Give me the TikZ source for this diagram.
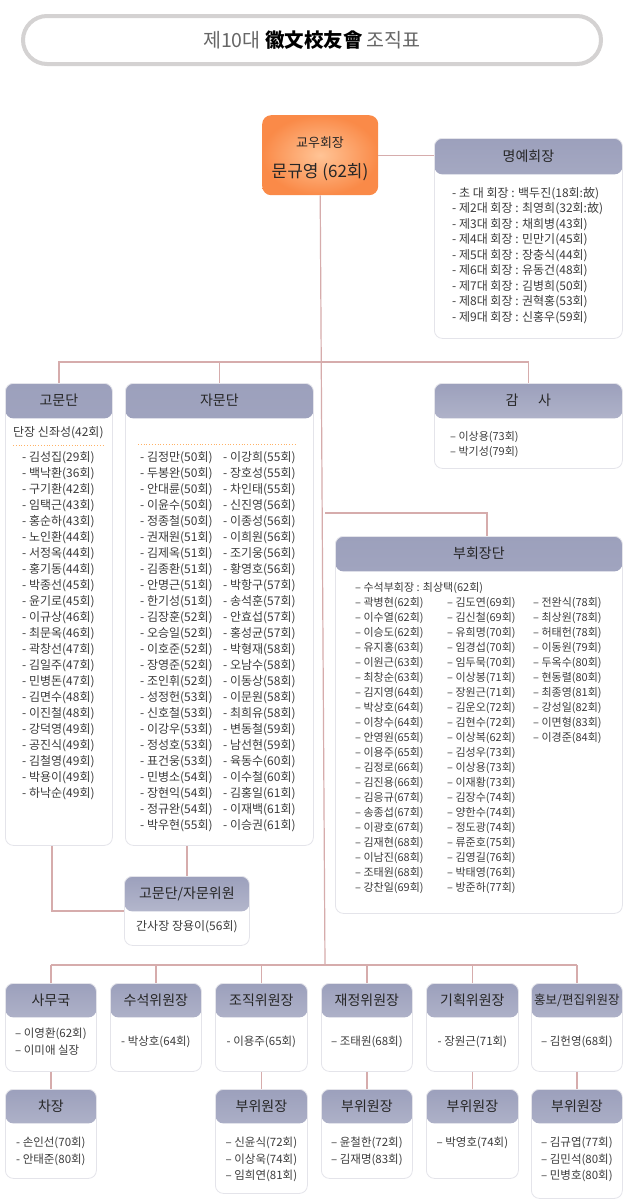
\documentclass[tikz,border=0pt]{standalone}
\usepackage{fontspec}
\setmainfont{Noto Sans CJK KR}
\usepackage{xcolor}
\definecolor{linkc}{RGB}{214,172,172}
\definecolor{hdrtop}{RGB}{156,160,188}
\definecolor{hdrbot}{RGB}{202,204,219}
\definecolor{framec}{RGB}{212,210,210}
\definecolor{edgec}{RGB}{228,228,234}
\definecolor{txtc}{RGB}{60,60,60}
\definecolor{chairout}{RGB}{250,138,72}
\definecolor{chairin}{RGB}{255,196,150}

\begin{document}
\begin{tikzpicture}[x=1pt, y=-1pt,
	link/.style={draw=linkc, line width=1.2pt},
	orgbox/.style={draw=edgec, line width=0.8pt, fill=white, rounded corners=8pt, inner sep=0pt, anchor=north west,
		path picture={\shade[top color=hdrtop, bottom color=hdrbot] (path picture bounding box.north west) rectangle ([yshift=-#1]path picture bounding box.north east);}},
	orgbox/.default=35pt,
	hdr/.style={font=\fontsize{14}{16}\selectfont, text=black!85},
	list/.style={font=\fontsize{12}{16}\selectfont, text=txtc, align=left, inner sep=0pt, anchor=north west},
	slist/.style={font=\fontsize{11}{15}\selectfont, text=txtc, align=left, inner sep=0pt, anchor=north west},
	blist/.style={font=\fontsize{11.5}{16.5}\selectfont, text=txtc, align=left, inner sep=0pt, anchor=north}]
	\fill[white] (0,0) rectangle (628,1200);
	\useasboundingbox (0,0) rectangle (628,1200);
	% title
	\node[draw=framec, line width=4pt, rounded corners=24pt, minimum width=578pt, minimum height=48pt, inner sep=0pt, font=\fontsize{19.5}{22}\selectfont] (title) at (312,40) {{\color{black!60}제10대} \textbf{徽文校友會} {\color{black!60}조직표}};
	% chairman
	\node[rounded corners=9pt, inner color=chairin, outer color=chairout, minimum width=116pt, minimum height=80pt, anchor=north west] (chair) at (262,115) {};
	\node[font=\fontsize{13}{15}\selectfont, text=black!85] (chair-t1) at (320,143) {교우회장};
	\node[font=\fontsize{17}{19}\selectfont, text=black!85] (chair-t2) at (320,172) {문규영 (62회)};
	% honorary chairmen
	\node[orgbox=36pt, minimum width=188pt, minimum height=200pt] (myeong) at (434,138) {};
	\node[hdr] (myeong-t) at ([yshift=-18pt]myeong.north) {명예회장};
	\node[list, font=\fontsize{12}{15.5}\selectfont] (myeong-l) at (452,187) {- 초 대 회장 : 백두진(18회:故)\\- 제2대 회장 : 최영희(32회:故)\\- 제3대 회장 : 채희병(43회)\\- 제4대 회장 : 민만기(45회)\\- 제5대 회장 : 장충식(44회)\\- 제6대 회장 : 유동건(48회)\\- 제7대 회장 : 김병희(50회)\\- 제8대 회장 : 권혁홍(53회)\\- 제9대 회장 : 신홍우(59회)};
	% advisers
	\node[orgbox, minimum width=107pt, minimum height=462pt] (gomun) at (5,383) {};
	\node[hdr] (gomun-t) at ([yshift=-17.5pt]gomun.north) {고문단};
	\node[list] (gomun-h) at (13,426) {단장 신좌성(42회)};
	\draw[orange!60, dotted, line width=0.8pt] (13,445) -- (105,445);
	\node[list] (gomun-l) at (22,451) {- 김성집(29회)\\- 백낙환(36회)\\- 구기환(42회)\\- 임택근(43회)\\- 홍순하(43회)\\- 노인환(44회)\\- 서정옥(44회)\\- 홍기동(44회)\\- 박종선(45회)\\- 윤기로(45회)\\- 이규상(46회)\\- 최문옥(46회)\\- 곽창선(47회)\\- 김일주(47회)\\- 민병돈(47회)\\- 김면수(48회)\\- 이진철(48회)\\- 강덕영(49회)\\- 공진식(49회)\\- 김철영(49회)\\- 박용이(49회)\\- 하낙순(49회)};
	\node[orgbox, minimum width=188pt, minimum height=462pt] (jamun) at (125,383) {};
	\node[hdr] (jamun-t) at ([yshift=-17.5pt]jamun.north) {자문단};
	\draw[orange!60, dotted, line width=0.8pt] (138,444) -- (296,444);
	\node[list] (jamun-l1) at (140,451) {- 김정만(50회)\\- 두봉완(50회)\\- 안대륜(50회)\\- 이윤수(50회)\\- 정종철(50회)\\- 권재원(51회)\\- 김제옥(51회)\\- 김종환(51회)\\- 안명근(51회)\\- 한기성(51회)\\- 김장훈(52회)\\- 오승일(52회)\\- 이호준(52회)\\- 장영준(52회)\\- 조인휘(52회)\\- 성정헌(53회)\\- 신호철(53회)\\- 이강우(53회)\\- 정성호(53회)\\- 표건웅(53회)\\- 민병소(54회)\\- 장현익(54회)\\- 정규완(54회)\\- 박우현(55회)};
	\node[list] (jamun-l2) at (223,451) {- 이강희(55회)\\- 장호성(55회)\\- 차인태(55회)\\- 신진영(56회)\\- 이종성(56회)\\- 이희원(56회)\\- 조기웅(56회)\\- 황영호(56회)\\- 박항구(57회)\\- 송석훈(57회)\\- 안효섭(57회)\\- 홍성균(57회)\\- 박형재(58회)\\- 오남수(58회)\\- 이동상(58회)\\- 이문원(58회)\\- 최희유(58회)\\- 변동철(59회)\\- 남선현(59회)\\- 육동수(60회)\\- 이수철(60회)\\- 김홍일(61회)\\- 이재백(61회)\\- 이승권(61회)};
	% auditors
	\node[orgbox, minimum width=188pt, minimum height=85pt] (gamsa) at (434,383) {};
	\node[hdr] (gamsa-t) at ([yshift=-17.5pt]gamsa.north) {감\hspace{1.4em}사};
	\node[slist] (gamsa-l) at (450,431) {– 이상용(73회)\\– 박기성(79회)};
	% vice presidents
	\node[orgbox, minimum width=287pt, minimum height=377pt] (buhoe) at (335,536) {};
	\node[hdr] (buhoe-t) at ([yshift=-17.5pt]buhoe.north) {부회장단};
	\node[slist] (buhoe-h) at (355,582) {– 수석부회장 : 최상택(62회)};
	\node[slist] (buhoe-l1) at (355,597) {– 곽병현(62회)\\– 이수열(62회)\\– 이승도(62회)\\– 유지홍(63회)\\– 이원근(63회)\\– 최창순(63회)\\– 김지영(64회)\\– 박상호(64회)\\– 이창수(64회)\\– 안영원(65회)\\– 이용주(65회)\\– 김정로(66회)\\– 김진용(66회)\\– 김응규(67회)\\– 송종섭(67회)\\– 이광호(67회)\\– 김재현(68회)\\– 이남진(68회)\\– 조태원(68회)\\– 강찬일(69회)};
	\node[slist] (buhoe-l2) at (447,597) {– 김도연(69회)\\– 김신철(69회)\\– 유희명(70회)\\– 임경섭(70회)\\– 임두묵(70회)\\– 이상봉(71회)\\– 장원근(71회)\\– 김운오(72회)\\– 김현수(72회)\\– 이상복(62회)\\– 김성우(73회)\\– 이상용(73회)\\– 이재황(73회)\\– 김장수(74회)\\– 양한수(74회)\\– 정도광(74회)\\– 류준호(75회)\\– 김영길(76회)\\– 박태영(76회)\\– 방준하(77회)};
	\node[slist] (buhoe-l3) at (533,597) {– 전완식(78회)\\– 최상원(78회)\\– 허태헌(78회)\\– 이동원(79회)\\– 두옥수(80회)\\– 현동렬(80회)\\– 최종영(81회)\\– 강성일(82회)\\– 이면형(83회)\\– 이경준(84회)};
	% adviser committee
	\node[orgbox, minimum width=125pt, minimum height=69pt] (gjw) at (124,876) {};
	\node[hdr] (gjw-t) at ([yshift=-17.5pt]gjw.north) {고문단/자문위원};
	\node[list] (gjw-l) at (136,920) {간사장 장용이(56회)};
	% committees, first row
	\node[orgbox=34pt, minimum width=91pt, minimum height=88pt] (samu) at (5,983) {};
	\node[hdr] (samu-t) at ([yshift=-17pt]samu.north) {사무국};
	\node[blist] (samu-l) at (samu.north |- 0,1028) {– 이영환(62회)\\– 이미애 실장};
	\node[orgbox=34pt, minimum width=91pt, minimum height=88pt] (suseok) at (110,983) {};
	\node[hdr] (suseok-t) at ([yshift=-17pt]suseok.north) {수석위원장};
	\node[blist] (suseok-l) at (suseok.north |- 0,1036) {- 박상호(64회)};
	\node[orgbox=34pt, minimum width=92pt, minimum height=88pt] (jojik) at (215,983) {};
	\node[hdr] (jojik-t) at ([yshift=-17pt]jojik.north) {조직위원장};
	\node[blist] (jojik-l) at (jojik.north |- 0,1036) {- 이용주(65회)};
	\node[orgbox=34pt, minimum width=91pt, minimum height=88pt] (jaejeong) at (321,983) {};
	\node[hdr] (jaejeong-t) at ([yshift=-17pt]jaejeong.north) {재정위원장};
	\node[blist] (jaejeong-l) at (jaejeong.north |- 0,1036) {– 조태원(68회)};
	\node[orgbox=34pt, minimum width=92pt, minimum height=88pt] (gihoek) at (426,983) {};
	\node[hdr] (gihoek-t) at ([yshift=-17pt]gihoek.north) {기획위원장};
	\node[blist] (gihoek-l) at (gihoek.north |- 0,1036) {- 장원근(71회)};
	\node[orgbox=34pt, minimum width=91pt, minimum height=88pt] (hongbo) at (531,983) {};
	\node[hdr, font=\fontsize{12.5}{14}\selectfont] (hongbo-t) at ([yshift=-17pt]hongbo.north) {홍보/편집위원장};
	\node[blist] (hongbo-l) at (hongbo.north |- 0,1036) {– 김헌영(68회)};
	% committees, second row
	\node[orgbox=34pt, minimum width=91pt, minimum height=89pt] (chajang) at (5,1089) {};
	\node[hdr] (chajang-t) at ([yshift=-17pt]chajang.north) {차장};
	\node[blist] (chajang-l) at (chajang.north |- 0,1137) {- 손인선(70회)\\- 안태준(80회)};
	\node[orgbox=34pt, minimum width=92pt, minimum height=104pt] (jojik-b) at (215,1089) {};
	\node[hdr] (jojik-bt) at ([yshift=-17pt]jojik-b.north) {부위원장};
	\node[blist] (jojik-bl) at (jojik-b.north |- 0,1137) {– 신윤식(72회)\\– 이상욱(74회)\\– 임희연(81회)};
	\node[orgbox=34pt, minimum width=91pt, minimum height=89pt] (jaejeong-b) at (321,1089) {};
	\node[hdr] (jaejeong-bt) at ([yshift=-17pt]jaejeong-b.north) {부위원장};
	\node[blist] (jaejeong-bl) at (jaejeong-b.north |- 0,1137) {– 윤철한(72회)\\– 김재명(83회)};
	\node[orgbox=34pt, minimum width=92pt, minimum height=89pt] (gihoek-b) at (426,1089) {};
	\node[hdr] (gihoek-bt) at ([yshift=-17pt]gihoek-b.north) {부위원장};
	\node[blist] (gihoek-bl) at (gihoek-b.north |- 0,1137) {– 박영호(74회)};
	\node[orgbox=34pt, minimum width=91pt, minimum height=109pt] (hongbo-b) at (531,1089) {};
	\node[hdr] (hongbo-bt) at ([yshift=-17pt]hongbo-b.north) {부위원장};
	\node[blist] (hongbo-bl) at (hongbo-b.north |- 0,1137) {– 김규엽(77회)\\– 김민석(80회)\\– 민병호(80회)};
	% connectors
	\coordinate (hub1) at (325,362);
	\coordinate (hub2) at (325,513);
	\coordinate (hub3) at (325,965);
	\draw[link] (chair.east) -- (chair.east -| myeong.west);
	\draw[link] (chair.south) -- (hub3);
	\draw[link] (gomun.north) -- (gomun.north |- hub1) -- (gamsa.north |- hub1) -- (gamsa.north);
	\draw[link] (jamun.north) -- (jamun.north |- hub1);
	\draw[link] (hub2) -| ([xshift=8pt]buhoe.north);
	\draw[link] (gjw.north) -- (gjw.north |- jamun.south);
	\draw[link] ([xshift=-7pt]gomun.south) |- (gjw.west);
	\draw[link] (samu.north |- hub3) -- (hongbo.north |- hub3);
	\draw[link] (samu.north) -- (samu.north |- hub3);
	\draw[link] (suseok.north) -- (suseok.north |- hub3);
	\draw[link] (jojik.north) -- (jojik.north |- hub3);
	\draw[link] (jaejeong.north) -- (jaejeong.north |- hub3);
	\draw[link] (gihoek.north) -- (gihoek.north |- hub3);
	\draw[link] (hongbo.north) -- (hongbo.north |- hub3);
	\draw[link] (samu.south) -- (chajang.north);
	\draw[link] (jojik.south) -- (jojik-b.north);
	\draw[link] (jaejeong.south) -- (jaejeong-b.north);
	\draw[link] (gihoek.south) -- (gihoek-b.north);
	\draw[link] (hongbo.south) -- (hongbo-b.north);
\end{tikzpicture}
\end{document}
